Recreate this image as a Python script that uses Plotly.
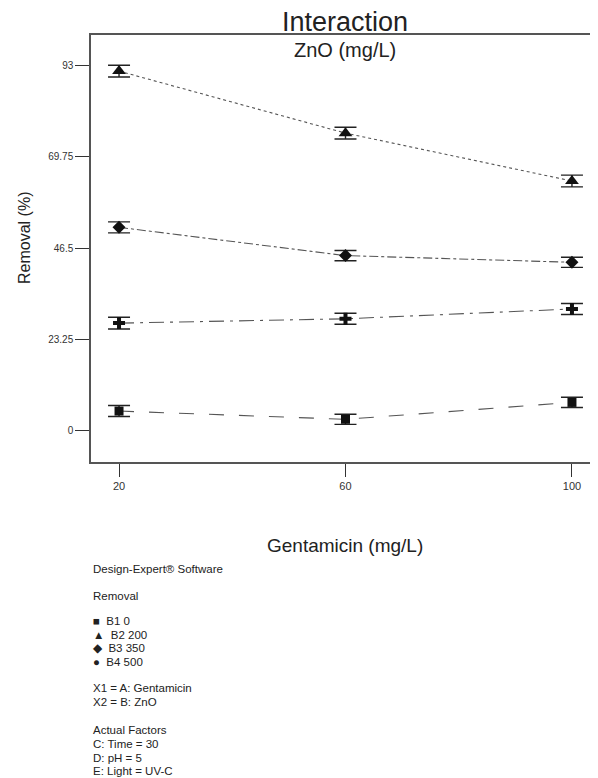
import plotly.graph_objects as go

# ---- data ----
gentamicin = [20, 60, 100]
series_names = ["B1 0", "B2 200", "B3 350", "B4 500"]
removal_b1 = [5.0, 2.9, 7.2]
removal_b2 = [91.6, 75.8, 63.6]
removal_b3 = [51.8, 44.6, 42.9]
removal_b4 = [27.4, 28.5, 31.0]
err_b1 = [1.4, 1.3, 1.3]
err_b2 = [1.5, 1.5, 1.5]
err_b3 = [1.4, 1.3, 1.3]
err_b4 = [1.5, 1.4, 1.4]
y_tick_vals = [0, 23.25, 46.5, 69.75, 93]
y_tick_text = ["0", "23.25", "46.5", "69.75", "93"]
x_tick_vals = [20, 60, 100]

NB = "\u00a0"
legend_lines = [
    ("Design-Expert® Software", 569),
    ("Removal", 596),
    ("■" + NB * 2 + "B1 0", 621),
    ("▲" + NB * 2 + "B2 200", 635),
    ("◆" + NB * 2 + "B3 350", 648),
    ("●" + NB * 2 + "B4 500", 662),
    ("X1 = A: Gentamicin", 688),
    ("X2 = B: ZnO", 702),
    ("Actual Factors", 730),
    ("C: Time = 30", 744),
    ("D: pH = 5", 758),
    ("E: Light = UV-C", 771),
]

FONT = "Liberation Sans, Arial, sans-serif"
OFF = 8  # page body margin offset
W, H = 598 - OFF, 778 - OFF
L, T = 91 - OFF, 35 - OFF
B = H - (462 - OFF)
R = 0
plot_h = H - T - B
plot_w = W - L - R

fig = go.Figure()

styles = [
    (removal_b1, err_b1, "square", 9, "longdash"),
    (removal_b2, err_b2, "triangle-up", 12, "dot"),
    (removal_b3, err_b3, "diamond", 10, "dashdot"),
    (removal_b4, err_b4, "cross", 10, "longdashdot"),
]
for name, (vals, errs, sym, size, dash) in zip(series_names, styles):
    fig.add_trace(go.Scatter(
        x=gentamicin, y=vals, name=name, mode="lines+markers",
        line=dict(color="#555555", width=1.1, dash=dash),
        marker=dict(symbol=sym, size=size, color="#111111"),
        error_y=dict(type="data", array=errs, visible=True,
                     color="#222222", thickness=1.4, width=11),
        showlegend=False,
    ))

fig.update_layout(
    width=W, height=H,
    margin=dict(l=L, r=R, t=T, b=B, pad=0),
    paper_bgcolor="white", plot_bgcolor="white",
    font=dict(family=FONT, color="#222222"),
    showlegend=False,
)
fig.update_xaxes(
    range=[15.05, 104.6], tickvals=x_tick_vals,
    showline=True, linecolor="#555555", linewidth=1.5, mirror=True,
    ticks="outside", ticklen=13, tickcolor="#333333", tickwidth=1.2,
    showgrid=False, zeroline=False,
    tickfont=dict(size=11, color="#333333"),
)
fig.update_yaxes(
    range=[-7.98, 100.8], tickvals=y_tick_vals, ticktext=y_tick_text,
    showline=True, linecolor="#555555", linewidth=1.5,
    ticks="outside", ticklen=14, tickcolor="#333333", tickwidth=1.2,
    showgrid=False, zeroline=False,
    tickfont=dict(size=10, color="#333333"),
)

def py(pix):
    return (H - B - (pix - OFF)) / plot_h

def px(pix):
    return ((pix - OFF) - L) / plot_w

ann = []
ann.append(dict(text="Interaction", x=px(345), xref="paper", y=py(22), yref="paper",
                showarrow=False, font=dict(size=27, color="#222222"),
                xanchor="center", yanchor="middle"))
ann.append(dict(text="ZnO (mg/L)", x=px(345), xref="paper", y=py(50), yref="paper",
                showarrow=False, font=dict(size=20, color="#222222"),
                xanchor="center", yanchor="middle"))
ann.append(dict(text="Gentamicin (mg/L)", x=px(345), xref="paper", y=py(545), yref="paper",
                showarrow=False, font=dict(size=19, color="#222222"),
                xanchor="center", yanchor="middle"))
ann.append(dict(text="Removal (%)", x=px(24), xref="paper", y=py(238), yref="paper",
                showarrow=False, font=dict(size=16, color="#222222"), textangle=-90,
                xanchor="center", yanchor="middle"))
for txt, ypix in legend_lines:
    ann.append(dict(text=txt, x=px(91), xref="paper", y=py(ypix), yref="paper",
                    showarrow=False, font=dict(size=11.5, color="#222222"),
                    xanchor="left", yanchor="middle"))
fig.update_layout(annotations=ann)

fig.write_html("out.html")
